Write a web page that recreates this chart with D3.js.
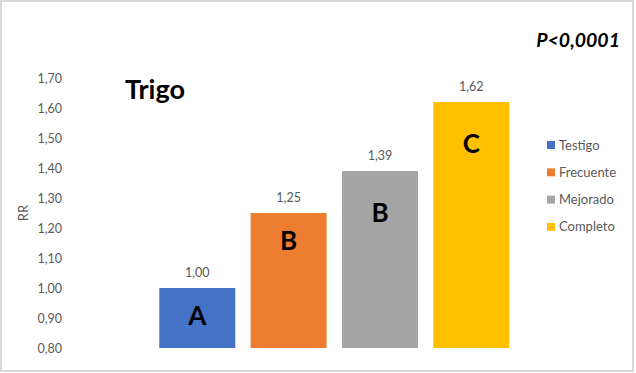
<!DOCTYPE html>
<html>
<head>
<meta charset="utf-8">
<script src="https://cdn.jsdelivr.net/npm/d3@7"></script>
<style>
  body { margin: 0; background: #fff; }
  svg { display: block; font-family: Lato, "Open Sans", sans-serif; }
</style>
</head>
<body>
<div id="chart"></div>
<script>
var categories = ["Testigo", "Frecuente", "Mejorado", "Completo"];
var values = [1.00, 1.25, 1.39, 1.62];
var letters = ["A", "B", "B", "C"];
var colors = ["#4472c4", "#ed7d31", "#a5a5a5", "#ffc000"];
var ticks = [0.8, 0.9, 1.0, 1.1, 1.2, 1.3, 1.4, 1.5, 1.6, 1.7];

var width = 636, height = 373;
var fmt = function(v) { return v.toFixed(2).replace('.', ','); };

var svg = d3.select('#chart')
  .append('svg')
  .attr('width', width)
  .attr('height', height);

// chart frame
svg.append('rect')
  .attr('x', 1).attr('y', 1)
  .attr('width', width - 4).attr('height', height - 3)
  .attr('fill', '#fff')
  .attr('stroke', '#d9d9d9')
  .attr('stroke-width', 2);

var y = d3.scaleLinear().domain([0.8, 1.7]).range([348, 78]);
var x = d3.scaleBand()
  .domain(categories)
  .range([151.6, 517])
  .paddingInner(0.168)
  .paddingOuter(0.084);

var color = d3.scaleOrdinal().domain(categories).range(colors);

// y axis, labels only
var yAxis = svg.append('g')
  .attr('transform', 'translate(62,0)')
  .call(d3.axisLeft(y).tickValues(ticks).tickFormat(fmt).tickSize(0).tickPadding(0));
yAxis.select('.domain').remove();
yAxis.selectAll('text')
  .attr('fill', '#595959')
  .style('font-size', '12.5px')
  .style('font-family', 'Lato, "Open Sans", sans-serif');

svg.append('text')
  .attr('transform', 'translate(28,213) rotate(-90)')
  .attr('text-anchor', 'middle')
  .attr('fill', '#595959')
  .style('font-size', '13px')
  .text('RR');

var bars = svg.selectAll('.bar')
  .data(values)
  .enter()
  .append('g')
  .attr('class', 'bar');

bars.append('rect')
  .attr('x', function(d, i) { return x(categories[i]); })
  .attr('y', function(d) { return y(d); })
  .attr('width', x.bandwidth())
  .attr('height', function(d) { return y(0.8) - y(d); })
  .attr('fill', function(d, i) { return color(categories[i]); });

bars.append('text')
  .attr('x', function(d, i) { return x(categories[i]) + x.bandwidth() / 2; })
  .attr('y', function(d) { return y(d) - 11; })
  .attr('text-anchor', 'middle')
  .attr('fill', '#595959')
  .style('font-size', '12.5px')
  .text(fmt);

bars.append('text')
  .attr('x', function(d, i) { return x(categories[i]) + x.bandwidth() / 2; })
  .attr('y', function(d) {
    var h = y(0.8) - y(d);
    return y(d) + (h < 150 ? 28 : 42) + 9;
  })
  .attr('text-anchor', 'middle')
  .attr('fill', '#000')
  .style('font-size', '26px')
  .style('font-weight', 'bold')
  .text(function(d, i) { return letters[i]; });

svg.append('text')
  .attr('x', 125).attr('y', 99)
  .attr('fill', '#000')
  .style('font-size', '27px')
  .style('font-weight', 'bold')
  .text('Trigo');

svg.append('text')
  .attr('x', 620).attr('y', 47)
  .attr('text-anchor', 'end')
  .attr('fill', '#000')
  .style('font-size', '19.5px')
  .style('font-weight', 'bold')
  .style('font-style', 'italic')
  .text('P<0,0001');

var legendSpacing = 27.3;
var legend = svg.selectAll('.legend')
  .data(categories)
  .enter()
  .append('g')
  .attr('class', 'legend')
  .attr('transform', function(d, i) {
    return 'translate(547,' + (145 + i * legendSpacing) + ')';
  });

legend.append('rect')
  .attr('x', 0).attr('y', -4)
  .attr('width', 8).attr('height', 8)
  .attr('fill', color);

legend.append('text')
  .attr('x', 12).attr('y', 4.5)
  .attr('fill', '#595959')
  .style('font-size', '13px')
  .text(function(d) { return d; });
</script>
</body>
</html>
